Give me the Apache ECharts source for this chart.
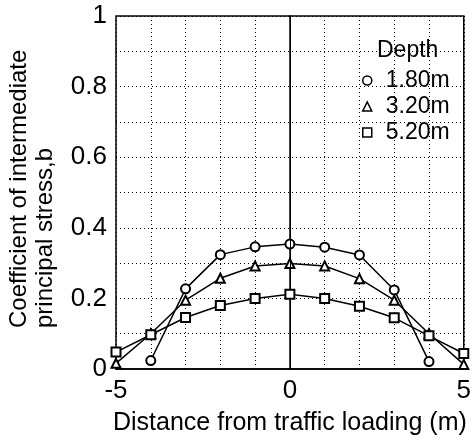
<!DOCTYPE html>
<html>
<head>
<meta charset="utf-8">
<script src="https://cdn.jsdelivr.net/npm/echarts@6/dist/echarts.min.js"></script>
<style>html,body{margin:0;padding:0;background:#fff;}#c{width:474px;height:441px;}</style>
</head>
<body>
<div id="c"></div>
<script>
var distances = [-5, -4, -3, -2, -1, 0, 1, 2, 3, 4, 5];
var seriesNames = ['1.80m', '3.20m', '5.20m'];
var depth180 = [null, 0.024, 0.227, 0.324, 0.346, 0.354, 0.345, 0.323, 0.224, 0.021, null];
var depth320 = [0.016, 0.10, 0.195, 0.257, 0.292, 0.299, 0.292, 0.256, 0.195, 0.10, 0.013];
var depth520 = [0.048, 0.097, 0.146, 0.180, 0.200, 0.212, 0.200, 0.178, 0.145, 0.094, 0.044];
var xTickLabels = ['-5', '0', '5'];
var yTickLabels = ['0', '0.2', '0.4', '0.6', '0.8', '1'];
var legendTitle = 'Depth';
var xTitle = 'Distance from traffic loading (m)';
var yTitle = 'Coefficient of intermediate\nprincipal stress,b';

function pairs(vals) {
  var out = [];
  for (var i = 0; i < distances.length; i++) {
    if (vals[i] !== null) out.push([distances[i], vals[i]]);
  }
  return out;
}

var FONT = 'Liberation Sans';
var chart = echarts.init(document.getElementById('c'));
var symbols = ['emptyCircle', 'emptyTriangle', 'emptyRect'];
var icons = ['circle', 'triangle', 'rect'];
var allVals = [depth180, depth320, depth520];

var series = seriesNames.map(function (n, i) {
  var s = {
    name: n,
    type: 'line',
    data: pairs(allVals[i]),
    symbol: symbols[i],
    symbolSize: 9,
    color: '#000',
    itemStyle: { color: '#000', borderWidth: 1.5 },
    lineStyle: { color: '#000', width: 1.5 },
    z: 3 + i,
    animation: false
  };
  if (i === 0) {
    s.markLine = {
      silent: true,
      symbol: 'none',
      label: { show: false },
      lineStyle: { color: '#000', width: 1, type: 'solid' },
      data: [{ xAxis: 0 }],
      animation: false
    };
  }
  return s;
});

chart.setOption({
  animation: false,
  backgroundColor: '#fff',
  grid: { left: 116, right: 7, top: 16, bottom: 72, show: true, borderColor: '#000', borderWidth: 1.5, backgroundColor: 'transparent' },
  title: {
    text: legendTitle, left: 372, top: 34,
    textStyle: { fontFamily: FONT, fontSize: 23, fontWeight: 'normal', color: '#000' }
  },
  legend: {
    orient: 'vertical', left: 357, top: 64, itemGap: 3,
    itemWidth: 9, itemHeight: 9,
    textStyle: { fontFamily: FONT, fontSize: 23, color: '#000', padding: [0, 0, 0, 9] },
    data: seriesNames.map(function (n, i) {
      return { name: n, icon: icons[i], itemStyle: { color: '#fff', borderColor: '#000', borderWidth: 1.5 } };
    })
  },
  xAxis: {
    type: 'value', min: -5, max: 5, interval: 1,
    name: xTitle, nameLocation: 'middle', nameGap: 42,
    nameTextStyle: { fontFamily: FONT, fontSize: 25, color: '#000' },
    axisLine: { show: true, lineStyle: { color: '#000', width: 1.5 } },
    axisTick: { show: false },
    axisLabel: {
      fontFamily: FONT, fontSize: 26, color: '#000', margin: 9,
      formatter: function (v) { var s = String(v); return xTickLabels.indexOf(s) >= 0 ? s : ''; }
    },
    splitLine: { show: true, lineStyle: { color: '#000', width: 1, type: [1, 3] } }
  },
  yAxis: {
    type: 'value', min: 0, max: 1, interval: 0.1,
    axisLine: { show: true, lineStyle: { color: '#000', width: 1.5 } },
    axisTick: { show: false },
    axisLabel: {
      fontFamily: FONT, fontSize: 26, color: '#000', margin: 9,
      formatter: function (v) {
        var s = String(Math.round(v * 10) / 10);
        return yTickLabels.indexOf(s) >= 0 ? s : '';
      }
    },
    splitLine: { show: true, lineStyle: { color: '#000', width: 1, type: [1, 3] } }
  },
  graphic: [{
    type: 'text', x: 32, y: 328, rotation: Math.PI / 2,
    style: {
      text: yTitle, fontFamily: FONT, fontSize: 24, fill: '#000',
      textAlign: 'left', textVerticalAlign: 'middle', lineHeight: 26
    }
  }],
  series: series
});
</script>
</body>
</html>
